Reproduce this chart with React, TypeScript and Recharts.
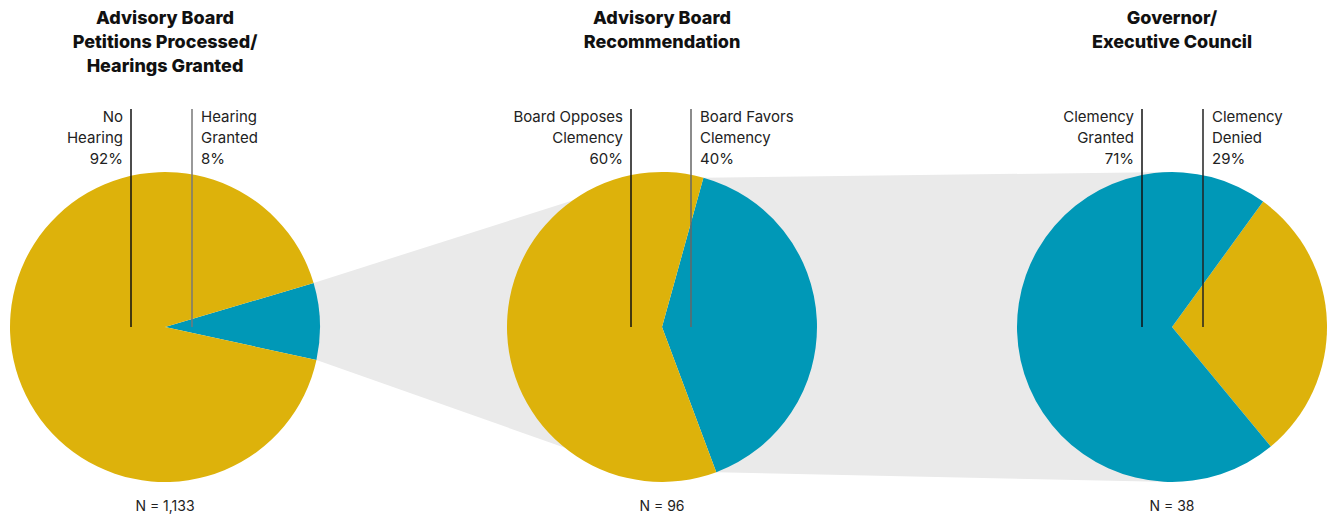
import React from 'react';
import { PieChart, Pie, Cell, Customized } from 'recharts';

const YELLOW = '#ddb20b';
const BLUE = '#0098b7';
const GRAY = '#eaeaea';

// panel data
const hearingData = [
  { name: 'Hearing Granted', value: 8 },
  { name: 'No Hearing', value: 92 },
];
const recommendationData = [
  { name: 'Board Favors Clemency', value: 40 },
  { name: 'Board Opposes Clemency', value: 60 },
];
const governorData = [
  { name: 'Clemency Denied', value: 29 },
  { name: 'Clemency Granted', value: 71 },
];

const hearingColors = [BLUE, YELLOW];
const recommendationColors = [BLUE, YELLOW];
const governorColors = [YELLOW, BLUE];

const titles = [
  ['Advisory Board', 'Petitions Processed/', 'Hearings Granted'],
  ['Advisory Board', 'Recommendation'],
  ['Governor/', 'Executive Council'],
];
const leftLabels = [
  ['No', 'Hearing', '92%'],
  ['Board Opposes', 'Clemency', '60%'],
  ['Clemency', 'Granted', '71%'],
];
const rightLabels = [
  ['Hearing', 'Granted', '8%'],
  ['Board Favors', 'Clemency', '40%'],
  ['Clemency', 'Denied', '29%'],
];
const counts = ['N = 1,133', 'N = 96', 'N = 38'];

// layout
const W = 1327;
const H = 518;
const CX = [165, 662, 1172];
const CY = 327;
const R = 155;
const START = [16.5, 74.5, 54];
const FONT = 'Inter, "Noto Sans", sans-serif';

const total = (d: { value: number }[]) => d.reduce((s, x) => s + x.value, 0);

// outer end points of the first slice of a pie
const sliceEdge = (i: number, data: { value: number }[]) => {
  const a0 = START[i];
  const a1 = a0 - (data[0].value / total(data)) * 360;
  const pt = (a: number) => [
    CX[i] + R * Math.cos((a * Math.PI) / 180),
    CY - R * Math.sin((a * Math.PI) / 180),
  ];
  return [pt(a0), pt(a1)];
};

const Connectors = () => {
  const [a1, b1] = sliceEdge(0, hearingData);
  const [a2, b2] = sliceEdge(1, recommendationData);
  return (
    <g>
      <polygon
        points={`${a1[0]},${a1[1]} ${CX[1]},${CY - R} ${CX[1]},${CY + R} ${b1[0]},${b1[1]}`}
        fill={GRAY}
      />
      <polygon
        points={`${a2[0]},${a2[1]} ${CX[2]},${CY - R} ${CX[2]},${CY + R} ${b2[0]},${b2[1]}`}
        fill={GRAY}
      />
    </g>
  );
};

// titles, leader lines and labels drawn above the pies
const Annotations = () => {
  const leftOff = [-34, -31, -30];
  const rightOff = [27, 29, 31];
  const rightColor = ['#777', '#666', '#222'];
  return (
    <svg
      width={W}
      height={H}
      style={{ position: 'absolute', left: 0, top: 0, pointerEvents: 'none' }}
      fontFamily={FONT}
    >
      {CX.map((cx, i) => (
        <g key={i}>
          {titles[i].map((t, j) => (
            <text key={j} x={cx} y={24 + j * 24} textAnchor="middle" fontSize={18} fontWeight={800} fill="#111">
              {t}
            </text>
          ))}
          <line x1={cx + leftOff[i]} x2={cx + leftOff[i]} y1={109} y2={CY} stroke="#111" strokeWidth={1.5} />
          <line x1={cx + rightOff[i]} x2={cx + rightOff[i]} y1={109} y2={CY} stroke={rightColor[i]} strokeWidth={1.5} />
          {leftLabels[i].map((t, j) => (
            <text key={'l' + j} x={cx + leftOff[i] - 8} y={122 + j * 21} textAnchor="end" fontSize={15} fill="#222">
              {t}
            </text>
          ))}
          {rightLabels[i].map((t, j) => (
            <text key={'r' + j} x={cx + rightOff[i] + 9} y={122 + j * 21} textAnchor="start" fontSize={15} fill="#222">
              {t}
            </text>
          ))}
          <text x={cx} y={511} textAnchor="middle" fontSize={14} fill="#222">
            {counts[i]}
          </text>
        </g>
      ))}
    </svg>
  );
};

export default function App() {
  const pies = [
    { data: hearingData, colors: hearingColors },
    { data: recommendationData, colors: recommendationColors },
    { data: governorData, colors: governorColors },
  ];
  return (
    <div style={{ position: 'absolute', left: 0, top: 0, width: W, height: H, background: '#fff' }}>
      <PieChart width={W} height={H} margin={{ top: 0, right: 0, bottom: 0, left: 0 }}>
        <Customized component={Connectors} />
        {pies.map((p, i) => (
          <Pie
            key={i}
            data={p.data}
            dataKey="value"
            nameKey="name"
            cx={CX[i]}
            cy={CY}
            outerRadius={R}
            innerRadius={0}
            startAngle={START[i]}
            endAngle={START[i] - 360}
            stroke="none"
            isAnimationActive={false}
          >
            {p.data.map((d, j) => (
              <Cell key={d.name} fill={p.colors[j]} />
            ))}
          </Pie>
        ))}
      </PieChart>
      <Annotations />
    </div>
  );
}
